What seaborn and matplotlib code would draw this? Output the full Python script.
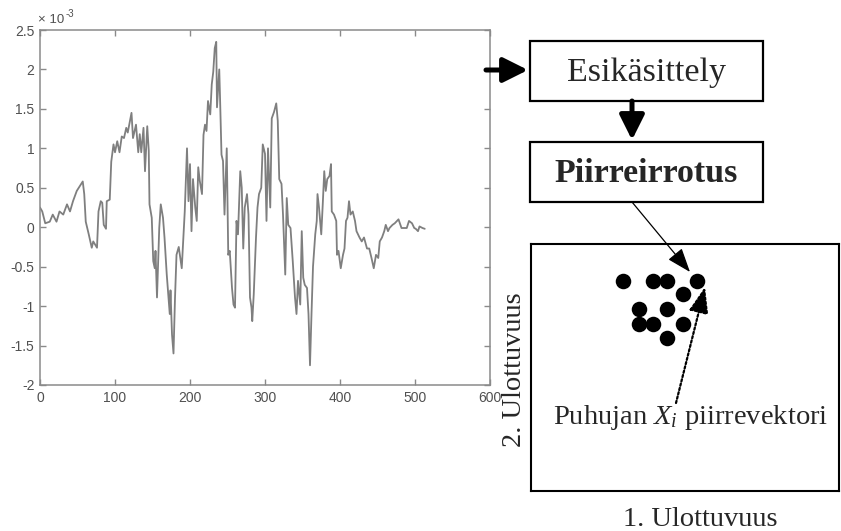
import numpy as np
import pandas as pd
import matplotlib
matplotlib.use("Agg")
import matplotlib.pyplot as plt
from matplotlib.patches import Rectangle
import seaborn as sns

# ---------------- data ----------------
sample_idx = [0, 3, 7, 13, 17, 22, 26, 31, 36, 40, 44, 49, 53, 57, 59, 61, 65, 69, 71, 76,
              78, 81, 83, 85, 88, 89, 93, 95, 98, 100, 103, 106, 109, 112, 115, 117, 122, 124,
              128, 131, 133, 135, 138, 140, 143, 145, 146, 149, 151, 153, 154, 156, 159, 161,
              164, 166, 169, 171, 173, 174, 176, 178, 180, 182, 185, 189, 193, 196, 198, 200,
              202, 204, 207, 209, 211, 213, 216, 218, 220, 222, 224, 227, 229, 231, 233, 235,
              236, 239, 240, 242, 244, 246, 249, 251, 253, 256, 258, 260, 262, 264, 267, 269,
              271, 273, 276, 278, 280, 282, 283, 285, 288, 290, 292, 295, 297, 300, 302, 304,
              307, 309, 312, 315, 317, 319, 322, 324, 327, 329, 331, 334, 337, 340, 342, 344,
              347, 349, 351, 353, 356, 358, 360, 362, 364, 367, 369, 370, 372, 375, 377, 379,
              381, 383, 386, 388, 389, 392, 395, 396, 398, 401, 404, 406, 408, 410, 412, 414,
              417, 420, 422, 426, 429, 432, 436, 439, 442, 445, 448, 451, 453, 456, 459, 461,
              464, 466, 470, 473, 476, 478, 482, 485, 489, 492, 496, 499, 501, 504, 506, 510, 513]
amplitude = [0.25, 0.2, 0.05, 0.07, 0.16, 0.07, 0.2, 0.16, 0.29, 0.2, 0.33, 0.46, 0.52, 0.58,
             0.42, 0.07, -0.09, -0.26, -0.18, -0.26, 0.2, 0.33, 0.31, 0.03, -0.02, 0.33, 0.35,
             0.83, 1.05, 0.95, 1.09, 0.95, 1.15, 1.13, 1.26, 1.2, 1.45, 1.13, 1.3, 0.95, 1.18,
             0.95, 1.26, 0.71, 1.28, 0.97, 0.29, 0.12, -0.43, -0.52, -0.3, -0.89, -0.01, 0.29,
             0.12, -0.13, -0.6, -0.85, -1.1, -0.8, -1.36, -1.6, -0.9, -0.35, -0.25, -0.52, 0.2,
             1.0, 0.33, 0.8, -0.05, 0.61, 0.25, 0.08, 0.76, 0.59, 0.42, 1.17, 1.3, 1.22, 1.6,
             1.43, 1.81, 1.97, 2.27, 2.35, 1.52, 2.0, 1.66, 0.92, 0.84, 0.16, 1.0, -0.35, -0.3,
             -0.77, -0.98, -1.02, 0.08, -0.09, 0.71, 0.5, -0.27, 0.25, 0.42, 0.16, -0.89, -1.02,
             -1.19, -0.85, -0.13, 0.25, 0.42, 0.5, 1.05, 0.93, 0.08, 1.0, 0.25, 1.38, 1.46, 1.57,
             1.35, 0.61, 0.55, 0.16, -0.6, 0.37, 0.03, -0.01, -0.43, -0.89, -1.1, -0.68, -0.98,
             -0.05, -0.64, -0.73, -0.77, -1.1, -1.75, -1.1, -0.5, -0.09, 0.08, 0.42, 0.25, -0.09,
             0.29, 0.71, 0.46, 0.61, 0.65, 0.8, 0.2, 0.16, 0.08, -0.35, -0.3, -0.52, -0.35,
             -0.27, 0.08, 0.12, 0.33, 0.16, 0.2, 0.08, -0.05, -0.13, -0.18, -0.13, -0.27, -0.27,
             -0.39, -0.52, -0.35, -0.39, -0.18, -0.13, -0.05, 0.03, -0.05, -0.01, 0.03, 0.05,
             0.08, 0.1, -0.01, -0.01, -0.01, 0.08, 0.05, -0.01, -0.02, -0.05, 0.01, -0.01, -0.02]

x_ticks = [0, 100, 200, 300, 400, 500, 600]
y_ticks = [-2, -1.5, -1, -0.5, 0, 0.5, 1, 1.5, 2, 2.5]
y_tick_labels = ["-2", "-1.5", "-1", "-0.5", "0", "0.5", "1", "1.5", "2", "2.5"]

dim1 = [30, 39.5, 44.3, 54, 49.2, 35, 44.3, 35, 39.5, 49.2, 44.3]
dim2 = [85, 85, 85, 85, 79.8, 73.7, 73.7, 67.6, 67.6, 67.6, 61.9]

box_labels = ["Esikäsittely", "Piirreirrotus"]
vector_label = r"Puhujan $X_i$ piirrevektori"
axis1_label = "1. Ulottuvuus"
axis2_label = "2. Ulottuvuus"

# ---------------- style ----------------
sns.set_style("white")
plt.rcParams["font.family"] = ["Liberation Sans", "DejaVu Sans"]
plt.rcParams["axes.unicode_minus"] = False
plt.rcParams["mathtext.fontset"] = "custom"
plt.rcParams["mathtext.it"] = "Liberation Serif:italic"
plt.rcParams["mathtext.rm"] = "Liberation Serif"

W, H = 841, 531
fig = plt.figure(figsize=(W / 100, H / 100), dpi=100)
fig.patch.set_facecolor("white")

# ---------------- signal plot ----------------
ax = fig.add_axes([40 / W, 1 - 385 / H, 450 / W, 355 / H])
df = pd.DataFrame({"n": sample_idx, "v": amplitude})
sns.lineplot(data=df, x="n", y="v", ax=ax, color="#7f7f7f", lw=1.3, sort=False)
ax.set_xlim(0, 600)
ax.set_ylim(-2, 2.5)
ax.set_xticks(x_ticks)
ax.set_xticklabels([str(t) for t in x_ticks])
ax.set_yticks(y_ticks)
ax.set_yticklabels(y_tick_labels)
ax.set_xlabel("")
ax.set_ylabel("")
ax.tick_params(direction="in", length=4, width=1, color="#8a8a8a",
               labelsize=10, labelcolor="#505050", top=True, right=True,
               bottom=True, left=True, pad=4)
for s in ax.spines.values():
    s.set_color("#8a8a8a")
    s.set_linewidth(1.1)
ax.text(-0.005, 1.012, r"× 10", transform=ax.transAxes, fontsize=9.5,
        color="#505050", ha="left", va="bottom")
ax.text(0.056, 1.032, "-3", transform=ax.transAxes, fontsize=7,
        color="#505050", ha="left", va="bottom")

# ---------------- feature space ----------------
axs = fig.add_axes([531 / W, 1 - 491 / H, 308 / W, 247 / H])
sns.scatterplot(x=dim1, y=dim2, ax=axs, color="black", s=125, edgecolor="black",
                linewidth=0, legend=False)
axs.set_xlim(0, 100)
axs.set_ylim(0, 100)
axs.set_xticks([])
axs.set_yticks([])
for s in axs.spines.values():
    s.set_color("black")
    s.set_linewidth(1.5)
    s.set_visible(True)

# ---------------- diagram overlay ----------------
axd = fig.add_axes([0, 0, 1, 1], zorder=5)
axd.set_xlim(0, W)
axd.set_ylim(H, 0)
axd.axis("off")
axd.patch.set_visible(False)

serif = "Liberation Serif"
axd.add_patch(Rectangle((530, 41), 233, 60, fill=False, lw=1.6, ec="black"))
axd.add_patch(Rectangle((530, 142), 233, 60, fill=False, lw=1.6, ec="black"))
axd.text(646.5, 73, box_labels[0], family=serif, fontsize=24.5, ha="center", va="center")
axd.text(646.5, 174, box_labels[1], family=serif, fontsize=24.5, fontweight="bold",
         ha="center", va="center")

thick = dict(arrowstyle="-|>,head_length=1.5,head_width=0.75", lw=3.6, color="black",
             shrinkA=0, shrinkB=0, mutation_scale=10)
axd.annotate("", xy=(528, 70), xytext=(486, 70), arrowprops=thick)
axd.annotate("", xy=(632, 140), xytext=(632, 101), arrowprops=thick)

axd.annotate("", xy=(690, 272), xytext=(632, 202),
             arrowprops=dict(arrowstyle="-|>,head_length=1.5,head_width=0.55", lw=0.9,
                             color="black", shrinkA=0, shrinkB=0, mutation_scale=10))
axd.annotate("", xy=(705, 287), xytext=(676, 403),
             arrowprops=dict(arrowstyle="-|>,head_length=1.6,head_width=0.6", lw=1.6,
                             ls=(0, (1, 1)), color="black", shrinkA=0, shrinkB=0,
                             mutation_scale=10))

axd.text(691, 418, vector_label, family=serif, fontsize=20.5, ha="center", va="center")
axd.text(515, 370, axis2_label, family=serif, fontsize=20.5, rotation=90,
         ha="center", va="center")
axd.text(700, 519, axis1_label, family=serif, fontsize=20.5, ha="center", va="center")

fig.savefig("out.png", dpi=100, facecolor="white")
